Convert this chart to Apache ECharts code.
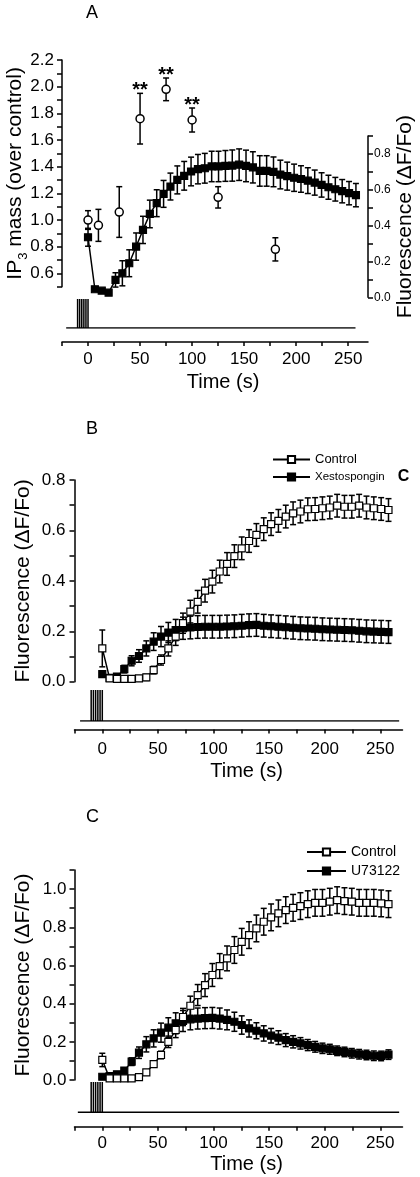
<!DOCTYPE html>
<html><head><meta charset="utf-8">
<script src="https://cdn.jsdelivr.net/npm/echarts@6/dist/echarts.min.js"></script>
<style>html,body{margin:0;padding:0;background:#fff}#c{width:420px;height:1177px}</style>
</head><body><div id="c"></div>
<script>
// ================= DATA =================
// Panel A – IP3 mass (over control), open circles, left axis
const ip3Time  = [0, 10, 30, 50, 75, 100, 125, 180];
const ip3Mass  = [1.00, 0.96, 1.06, 1.76, 1.98, 1.75, 1.17, 0.78];
const ip3Err   = [0.07, 0.12, 0.19, 0.19, 0.085, 0.09, 0.08, 0.087];
const ip3Stars = ['', '', '', '**', '**', '**', '', ''];

// Sampling times of the fluorescence traces (s)
const fluoTime = [0, 6.6, 13.2, 19.8, 26.4, 33, 39.6, 46.2, 52.8, 59.4, 66, 72.6, 79.2, 85.8, 92.4, 99, 105.6, 112.2, 118.8, 125.4,
  132, 138.6, 145.2, 151.8, 158.4, 165, 171.6, 178.2, 184.8, 191.4, 198, 204.6, 211.2, 217.8, 224.4, 231, 237.6, 244.2, 250.8, 257.4];

// Panel A – fluorescence (ΔF/Fo), filled squares, right axis
const fluoA    = [0.335, 0.045, 0.037, 0.026, 0.097, 0.134, 0.19, 0.283, 0.376, 0.465, 0.525, 0.577, 0.618, 0.655, 0.678, 0.702, 0.715, 0.72, 0.73, 0.73,
  0.733, 0.735, 0.74, 0.733, 0.725, 0.705, 0.705, 0.70, 0.685, 0.676, 0.667, 0.66, 0.651, 0.64, 0.627, 0.614, 0.603, 0.592, 0.581, 0.57];
const fluoAErr = [0.05, 0.01, 0.01, 0.01, 0.04, 0.07, 0.075, 0.076, 0.076, 0.077, 0.075, 0.075, 0.075, 0.078, 0.08, 0.08, 0.082, 0.083, 0.085, 0.085,
  0.086, 0.087, 0.088, 0.088, 0.087, 0.085, 0.085, 0.083, 0.08, 0.078, 0.076, 0.074, 0.072, 0.07, 0.068, 0.067, 0.066, 0.065, 0.065, 0.065];

// Panel B – Control (open) and Xestospongin C (filled)
const ctrlB    = [0.132, 0.013, 0.011, 0.011, 0.011, 0.013, 0.017, 0.046, 0.086, 0.132, 0.179, 0.232, 0.278, 0.317, 0.361, 0.397, 0.437, 0.467, 0.498, 0.529,
  0.558, 0.582, 0.605, 0.625, 0.638, 0.655, 0.668, 0.675, 0.684, 0.685, 0.688, 0.691, 0.698, 0.694, 0.694, 0.698, 0.691, 0.688, 0.685, 0.681];
const ctrlBErr = [0.073, 0.01, 0.01, 0.01, 0.01, 0.01, 0.012, 0.015, 0.02, 0.03, 0.035, 0.04, 0.045, 0.045, 0.045, 0.045, 0.045, 0.045, 0.045, 0.045,
  0.045, 0.045, 0.045, 0.045, 0.045, 0.045, 0.045, 0.045, 0.045, 0.045, 0.045, 0.045, 0.045, 0.045, 0.045, 0.045, 0.045, 0.045, 0.045, 0.045];
const xestoB   = [0.03, 0.015, 0.02, 0.05, 0.083, 0.102, 0.132, 0.159, 0.179, 0.195, 0.205, 0.212, 0.215, 0.217, 0.218, 0.218, 0.218, 0.219, 0.22, 0.222,
  0.224, 0.225, 0.222, 0.22, 0.218, 0.216, 0.214, 0.212, 0.211, 0.21, 0.208, 0.207, 0.206, 0.205, 0.204, 0.202, 0.2, 0.199, 0.198, 0.197];
const xestoBErr= [0.01, 0.01, 0.01, 0.015, 0.02, 0.025, 0.03, 0.035, 0.04, 0.04, 0.042, 0.044, 0.045, 0.045, 0.045, 0.045, 0.045, 0.045, 0.045, 0.045,
  0.045, 0.045, 0.045, 0.045, 0.045, 0.045, 0.045, 0.045, 0.045, 0.045, 0.045, 0.045, 0.045, 0.045, 0.045, 0.045, 0.045, 0.045, 0.045, 0.045];

// Panel C – Control (open) and U73122 (filled)
const ctrlC    = [0.105, 0.009, 0.009, 0.008, 0.009, 0.015, 0.04, 0.083, 0.131, 0.2, 0.262, 0.33, 0.389, 0.445, 0.497, 0.55, 0.597, 0.637, 0.681, 0.724,
  0.759, 0.794, 0.829, 0.852, 0.873, 0.89, 0.902, 0.911, 0.921, 0.928, 0.928, 0.934, 0.942, 0.937, 0.934, 0.928, 0.928, 0.928, 0.925, 0.921];
const ctrlCErr = [0.035, 0.01, 0.01, 0.01, 0.01, 0.01, 0.012, 0.015, 0.02, 0.03, 0.04, 0.045, 0.05, 0.055, 0.06, 0.06, 0.065, 0.065, 0.07, 0.07,
  0.07, 0.07, 0.07, 0.07, 0.07, 0.07, 0.07, 0.07, 0.07, 0.07, 0.07, 0.07, 0.07, 0.07, 0.07, 0.07, 0.07, 0.07, 0.07, 0.07];
const u73C     = [0.017, 0.02, 0.03, 0.049, 0.096, 0.143, 0.187, 0.218, 0.248, 0.274, 0.297, 0.309, 0.318, 0.322, 0.324, 0.325, 0.322, 0.315, 0.305, 0.288,
  0.27, 0.258, 0.244, 0.232, 0.222, 0.209, 0.2, 0.192, 0.183, 0.174, 0.166, 0.161, 0.153, 0.147, 0.14, 0.135, 0.131, 0.127, 0.126, 0.133];
const u73CErr  = [0.01, 0.01, 0.01, 0.015, 0.02, 0.03, 0.04, 0.045, 0.05, 0.052, 0.055, 0.055, 0.055, 0.055, 0.055, 0.055, 0.055, 0.052, 0.05, 0.048,
  0.045, 0.042, 0.04, 0.038, 0.036, 0.034, 0.032, 0.03, 0.029, 0.028, 0.027, 0.026, 0.025, 0.025, 0.025, 0.025, 0.025, 0.025, 0.025, 0.025];

// Stimulation trace (pulse train before t = 0)
const pulseTimes = [-10, -8, -6, -4, -2, 0];
const stimStart  = [-21, -20, -22];
const stimEnd    = [257, 267, 267];

// Tick / label values
const timeTicks   = [-25, 0, 25, 50, 75, 100, 125, 150, 175, 200, 225, 250];
const timeLabels  = [0, 50, 100, 150, 200, 250];
const ip3Ticks    = [0.5, 0.6, 0.7, 0.8, 0.9, 1.0, 1.1, 1.2, 1.3, 1.4, 1.5, 1.6, 1.7, 1.8, 1.9, 2.0, 2.1, 2.2];
const ip3Labels   = [0.6, 0.8, 1.0, 1.2, 1.4, 1.6, 1.8, 2.0, 2.2];
const fluoATicks  = [0, 0.1, 0.2, 0.3, 0.4, 0.5, 0.6, 0.7, 0.8, 0.9];
const fluoALabels = [0, 0.2, 0.4, 0.6, 0.8];
const fluoBTicks  = [0, 0.1, 0.2, 0.3, 0.4, 0.5, 0.6, 0.7, 0.8];
const fluoBLabels = [0, 0.2, 0.4, 0.6, 0.8];
const fluoCTicks  = [0, 0.1, 0.2, 0.3, 0.4, 0.5, 0.6, 0.7, 0.8, 0.9, 1.0, 1.1];
const fluoCLabels = [0, 0.2, 0.4, 0.6, 0.8, 1.0];

// ================= CHART =================
const FONT = '"Liberation Sans", Arial, sans-serif';
const BLACK = '#000';

function yAx(gi, min, max, ticks, labels, pos, fontSize, margin, name, nameGap, nameSize, rich) {
  return {
    type: 'value', gridIndex: gi, min, max, interval: 0.1, position: pos,
    axisLine: { show: true, onZero: false, lineStyle: { color: BLACK, width: 1.5 } },
    axisTick: { show: true, inside: false, length: 5, customValues: ticks, lineStyle: { color: BLACK, width: 1.5 } },
    axisLabel: { show: true, margin, customValues: labels, color: BLACK, fontFamily: FONT, fontSize,
      formatter: v => (Math.round(v * 10) % 2 === 0 ? v.toFixed(1) : '') },
    splitLine: { show: false },
    name, nameLocation: 'middle', nameGap, nameRotate: 90, nameMoveOverlap: false,
    nameTextStyle: { color: BLACK, fontFamily: FONT, fontSize: nameSize, rich: rich || {} }
  };
}
function yHidden(gi) {
  return { type: 'value', gridIndex: gi, min: 0, max: 1, show: false };
}
function xHidden(gi, max) {
  return { type: 'value', gridIndex: gi, min: -25, max, show: false };
}
function xVisible(gi, max, offset, margin, nameGap) {
  return {
    type: 'value', gridIndex: gi, min: -25, max, interval: 25, offset, position: 'bottom',
    axisLine: { show: true, onZero: false, lineStyle: { color: BLACK, width: 1.5 } },
    axisTick: { show: true, inside: false, length: 4, customValues: timeTicks, lineStyle: { color: BLACK, width: 1.5 } },
    axisLabel: { show: true, margin, customValues: timeLabels, color: BLACK, fontFamily: FONT, fontSize: 17,
      formatter: v => (v % 50 === 0 && v >= 0 ? String(v) : '') },
    splitLine: { show: false },
    name: 'Time (s)', nameLocation: 'middle', nameGap, nameMoveOverlap: false,
    nameTextStyle: { color: BLACK, fontFamily: FONT, fontSize: 20, padding: [0, 0, 0, 16] }
  };
}
function errSeries(xi, yi, times, vals, errs, capW, stars) {
  return {
    type: 'custom', xAxisIndex: xi, yAxisIndex: yi, z: 2, silent: true, animation: false,
    data: times.map((t, i) => [t, vals[i] - errs[i], vals[i] + errs[i]]),
    encode: { x: 0, y: [1, 2] },
    renderItem(params, api) {
      const lo = api.coord([api.value(0), api.value(1)]);
      const hi = api.coord([api.value(0), api.value(2)]);
      const w = capW / 2;
      const st = { stroke: BLACK, lineWidth: 1.5, fill: null };
      const ch = [
        { type: 'line', shape: { x1: lo[0], y1: lo[1], x2: hi[0], y2: hi[1] }, style: st },
        { type: 'line', shape: { x1: hi[0] - w, y1: hi[1], x2: hi[0] + w, y2: hi[1] }, style: st },
        { type: 'line', shape: { x1: lo[0] - w, y1: lo[1], x2: lo[0] + w, y2: lo[1] }, style: st }
      ];
      const s = stars ? stars[params.dataIndex] : '';
      if (s) ch.push({ type: 'text', x: hi[0], y: hi[1] - 3,
        style: { text: s, fill: BLACK, font: 'bold 20px ' + FONT, align: 'center', verticalAlign: 'middle' } });
      return { type: 'group', children: ch };
    }
  };
}
function sqSeries(name, xi, yi, times, vals, filled, z) {
  return {
    name, type: 'line', xAxisIndex: xi, yAxisIndex: yi, z, animation: false,
    data: times.map((t, i) => [t, vals[i]]),
    symbol: 'rect', symbolSize: 7, showSymbol: true, showAllSymbol: true,
    lineStyle: { color: BLACK, width: 1.5 },
    itemStyle: { color: filled ? BLACK : '#fff', borderColor: BLACK, borderWidth: 1.2 }
  };
}
function stimSeries(xi, yi, k) {
  const d = [[stimStart[k], 0]];
  pulseTimes.forEach(p => { d.push([p, 0], [p, 1], [p, 0]); });
  d.push([stimEnd[k], 0]);
  return { type: 'line', xAxisIndex: xi, yAxisIndex: yi, data: d, symbol: 'none', silent: true, animation: false,
    lineStyle: { color: BLACK, width: 1.5 } };
}
const G = { outerBoundsMode: 'none', containLabel: false };

const option = {
  animation: false,
  backgroundColor: '#fff',
  textStyle: { fontFamily: FONT },
  title: [
    { text: 'A', left: 86, top: 4, padding: 0, textStyle: { fontSize: 18, fontWeight: 'normal', color: BLACK, fontFamily: FONT } },
    { text: 'B', left: 86, top: 420, padding: 0, textStyle: { fontSize: 18, fontWeight: 'normal', color: BLACK, fontFamily: FONT } },
    { text: 'C', left: 86, top: 808, padding: 0, textStyle: { fontSize: 18, fontWeight: 'normal', color: BLACK, fontFamily: FONT } }
  ],
  legend: [
    { data: ['Control', 'Xestospongin C'], orient: 'vertical', left: 272, top: 452, padding: 0, itemWidth: 37, itemHeight: 9, itemGap: 2,
      selectedMode: false,
      formatter: n => (n === 'Xestospongin C' ? '{x|Xestospongin}{b|C}' : n),
      textStyle: { fontSize: 13, lineHeight: 15, color: BLACK, fontFamily: FONT,
        rich: { x: { fontSize: 11.5, lineHeight: 15, color: BLACK, fontFamily: FONT },
                b: { fontSize: 16, lineHeight: 15, fontWeight: 'bold', color: BLACK, fontFamily: FONT, padding: [0, 0, 0, 13] } } } },
    { data: ['Control', 'U73122'], orient: 'vertical', left: 306, top: 844, padding: 0, itemWidth: 39, itemHeight: 9, itemGap: 3,
      selectedMode: false,
      textStyle: { fontSize: 14, lineHeight: 16, color: BLACK, fontFamily: FONT } }
  ],
  grid: [
    Object.assign({ left: 62, width: 306, top: 60, height: 226.7 }, G),      // 0 A circles
    Object.assign({ left: 62, width: 306, top: 136, height: 161.3 }, G),     // 1 A squares
    Object.assign({ left: 62, width: 306, top: 299, height: 29 }, G),        // 2 A stim
    Object.assign({ left: 74.5, width: 328, top: 480, height: 201.7 }, G),   // 3 B data
    Object.assign({ left: 74.5, width: 328, top: 690, height: 31 }, G),      // 4 B stim
    Object.assign({ left: 74.5, width: 328, top: 870, height: 210 }, G),     // 5 C data
    Object.assign({ left: 74.5, width: 328, top: 1082, height: 30.3 }, G)    // 6 C stim
  ],
  xAxis: [
    xHidden(0, 269), xHidden(1, 269), xVisible(2, 269, 14, 9, 30),
    xHidden(3, 270), xVisible(4, 270, 8.5, 11, 32),
    xHidden(5, 270), xVisible(6, 270, 14.4, 8, 28)
  ],
  yAxis: [
    yAx(0, 0.5, 2.2, ip3Ticks, ip3Labels, 'left', 17, 8, 'IP{s|3} mass (over control)', 36, 21,
      { s: { fontSize: 13, verticalAlign: 'bottom', color: BLACK, fontFamily: FONT, padding: [0, 0, -4, 0] } }),
    yAx(1, 0, 0.9, fluoATicks, fluoALabels, 'right', 12, 6, 'Fluorescence (\u0394F/Fo)', 27, 21),
    yHidden(2),
    yAx(3, 0, 0.8, fluoBTicks, fluoBLabels, 'left', 17, 9, 'Fluorescence (\u0394F/Fo)', 41, 21),
    yHidden(4),
    yAx(5, 0, 1.1, fluoCTicks, fluoCLabels, 'left', 17, 8, 'Fluorescence (\u0394F/Fo)', 41, 21),
    yHidden(6)
  ],
  series: [
    // Panel A
    errSeries(1, 1, fluoTime, fluoA, fluoAErr, 6),
    sqSeries('Fluorescence', 1, 1, fluoTime, fluoA, true, 3),
    errSeries(0, 0, ip3Time, ip3Mass, ip3Err, 6, ip3Stars),
    { name: 'IP3 mass', type: 'scatter', xAxisIndex: 0, yAxisIndex: 0, z: 4, animation: false,
      data: ip3Time.map((t, i) => [t, ip3Mass[i]]),
      symbol: 'circle', symbolSize: 8,
      itemStyle: { color: '#fff', borderColor: BLACK, borderWidth: 1.5, opacity: 1 } },
    stimSeries(2, 2, 0),
    // Panel B
    errSeries(3, 3, fluoTime, xestoB, xestoBErr, 6),
    errSeries(3, 3, fluoTime, ctrlB, ctrlBErr, 6),
    sqSeries('Xestospongin C', 3, 3, fluoTime, xestoB, true, 3),
    sqSeries('Control', 3, 3, fluoTime, ctrlB, false, 4),
    stimSeries(4, 4, 1),
    // Panel C
    errSeries(5, 5, fluoTime, u73C, u73CErr, 6),
    errSeries(5, 5, fluoTime, ctrlC, ctrlCErr, 6),
    sqSeries('U73122', 5, 5, fluoTime, u73C, true, 3),
    sqSeries('Control', 5, 5, fluoTime, ctrlC, false, 4),
    stimSeries(6, 6, 2)
  ]
};

const chart = echarts.init(document.getElementById('c'), null, { renderer: 'canvas' });
chart.setOption(option);
</script>
</body></html>
